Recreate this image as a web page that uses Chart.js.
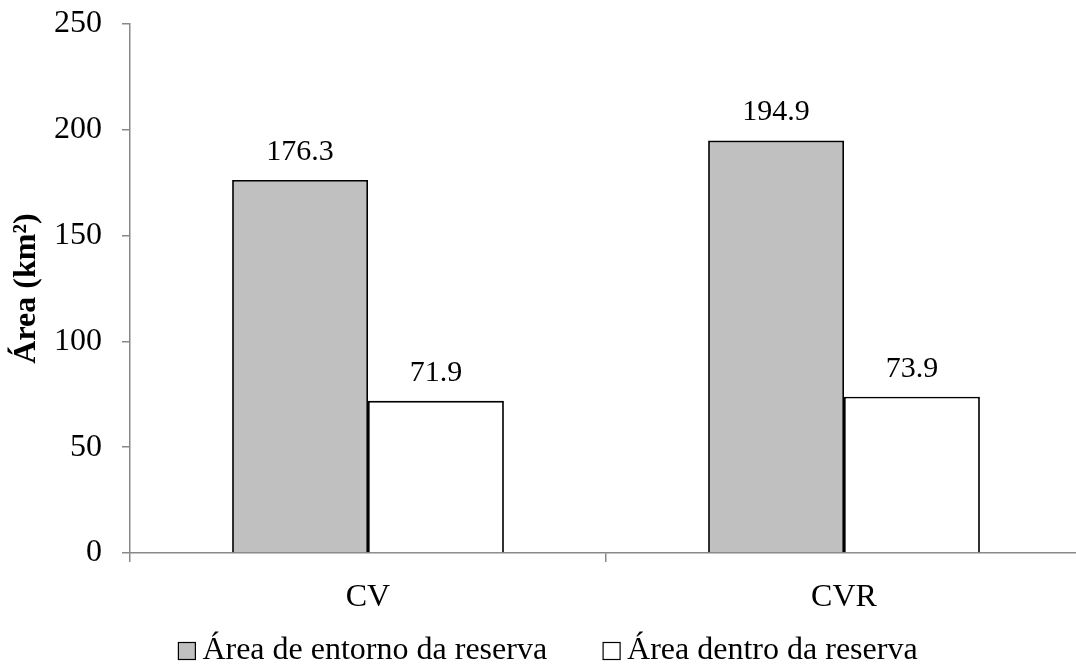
<!DOCTYPE html>
<html>
<head>
<meta charset="utf-8">
<script src="https://cdn.jsdelivr.net/npm/chart.js@4.4.0/dist/chart.umd.min.js"></script>
<style>
  html, body { margin: 0; padding: 0; background: #fff; overflow: hidden; }
  #wrap { width: 1090px; height: 670px; position: relative; }
</style>
</head>
<body>
<div id="wrap"><canvas id="barChart"></canvas></div>
<script>
var categories = ["CV", "CVR"];
var seriesNames = ["Área de entorno da reserva", "Área dentro da reserva"];
var entornoValues = [176.3, 194.9];
var dentroValues = [71.9, 73.9];

var serif = "'Liberation Serif', 'Times New Roman', serif";

// values printed above each bar
var valueLabels = {
    id: 'valueLabels',
    afterDatasetsDraw: function(chart) {
        var ctx = chart.ctx;
        ctx.save();
        ctx.font = "30px " + serif;
        ctx.fillStyle = "#000";
        ctx.textAlign = "center";
        ctx.textBaseline = "bottom";
        chart.data.datasets.forEach(function(ds, i) {
            chart.getDatasetMeta(i).data.forEach(function(bar, j) {
                ctx.fillText(ds.data[j].toFixed(1), bar.x, bar.y - 13);
            });
        });
        ctx.restore();
    }
};

// legend like the Excel one: small boxes, tight box/text gap
var bottomLegend = {
    id: 'bottomLegend',
    afterDraw: function(chart) {
        var ctx = chart.ctx;
        var box = 17, gap = 7, spacing = 56, cy = 651;
        ctx.save();
        ctx.font = "32px " + serif;
        ctx.textBaseline = "middle";
        ctx.textAlign = "left";
        var dsets = chart.data.datasets;
        var widths = dsets.map(function(ds) { return box + gap + ctx.measureText(ds.label).width; });
        var total = widths.reduce(function(a, b) { return a + b; }, 0) + spacing * (dsets.length - 1);
        var x = 548 - total / 2;
        dsets.forEach(function(ds, i) {
            ctx.fillStyle = ds.backgroundColor;
            ctx.fillRect(x, cy - box / 2, box, box);
            ctx.strokeStyle = "#000";
            ctx.lineWidth = 1.2;
            ctx.strokeRect(x, cy - box / 2, box, box);
            ctx.fillStyle = "#000";
            ctx.fillText(ds.label, x + box + gap, cy);
            x += widths[i] + spacing;
        });
        ctx.restore();
    }
};

var barData = {
    labels: categories,
    datasets: [{
        label: seriesNames[0],
        data: entornoValues,
        backgroundColor: "#c0c0c0",
        borderColor: "#000",
        borderWidth: 1.8
    }, {
        label: seriesNames[1],
        data: dentroValues,
        backgroundColor: "#ffffff",
        borderColor: "#000",
        borderWidth: 1.8
    }]
};

var baroptions = {
    responsive: true,
    maintainAspectRatio: false,
    animation: false,
    layout: {
        padding: { top: 24, right: 8, bottom: 54, left: 0 }
    },
    datasets: {
        bar: { categoryPercentage: 0.571, barPercentage: 1.0 }
    },
    plugins: {
        legend: { display: false },
        tooltip: { enabled: false }
    },
    scales: {
        x: {
            afterFit: function(scale) {
                scale.height = 63;
                scale.paddingLeft = 0;
                scale.paddingRight = 0;
            },
            grid: {
                display: true,
                drawOnChartArea: false,
                tickLength: 9,
                color: "#888",
                lineWidth: 1.5
            },
            border: { color: "#888", width: 1.5 },
            ticks: {
                font: { family: serif, size: 32 },
                color: "#000",
                padding: 16
            }
        },
        y: {
            min: 0,
            max: 250,
            afterFit: function(scale) {
                scale.width = 130;
                scale.paddingTop = 0;
                scale.paddingBottom = 0;
            },
            grid: {
                display: true,
                drawOnChartArea: false,
                tickLength: 8,
                color: "#888",
                lineWidth: 1.5
            },
            border: { color: "#888", width: 1.5 },
            ticks: {
                stepSize: 50,
                font: { family: serif, size: 32 },
                color: "#000",
                padding: 20
            },
            title: {
                display: true,
                text: "Área (km²)",
                font: { family: serif, size: 32, weight: 'bold' },
                color: "#000",
                padding: { top: 8, bottom: 0 }
            }
        }
    }
};

var ctx = document.getElementById("barChart").getContext("2d");
var myBar = new Chart(ctx, {
    type: 'bar',
    data: barData,
    options: baroptions,
    plugins: [valueLabels, bottomLegend]
});
</script>
</body>
</html>
